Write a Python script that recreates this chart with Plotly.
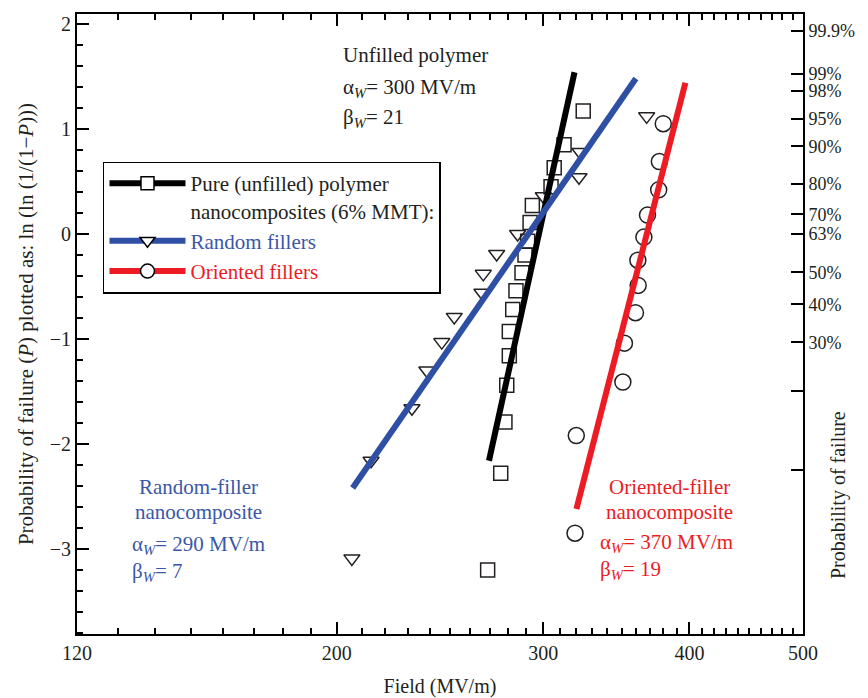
import numpy as np
import plotly.graph_objects as go

# ---------------- data ----------------
sq_field = [269.0, 276.0, 278.3, 279.3, 280.7, 280.7, 282.6, 284.4, 287.8, 289.5,
            291.0, 292.4, 293.7, 304.7, 306.6, 312.6, 324.6]
sq_y = [-3.20, -2.28, -1.79, -1.44, -1.16, -0.93, -0.72, -0.54, -0.37, -0.20,
        -0.07, 0.11, 0.27, 0.45, 0.63, 0.85, 1.17]

tri_field = [206.0, 213.9, 231.8, 238.7, 245.8, 251.9, 266.0, 266.7, 273.8, 285.3,
             300.1, 321.9, 322.5, 367.7]
tri_y = [-3.09, -2.16, -1.66, -1.30, -1.03, -0.79, -0.56, -0.38, -0.19, 0.00,
         0.36, 0.54, 0.78, 1.12]

circ_field = [319.4, 320.2, 350.9, 352.0, 359.7, 361.6, 361.4, 365.7, 368.3, 376.5,
              377.0, 379.9]
circ_y = [-2.85, -1.92, -1.41, -1.04, -0.75, -0.49, -0.25, -0.03, 0.18, 0.42,
          0.69, 1.05]

unfilled_fit_field = [269.7, 319.1]
unfilled_fit_y = [-2.16, 1.54]
random_fit_field = [206.3, 360.0]
random_fit_y = [-2.42, 1.48]
oriented_fit_field = [320.3, 396.8]
oriented_fit_y = [-2.62, 1.44]

x_tick_vals = [120, 200, 300, 400, 500]
x_tick_text = ["120", "200", "300", "400", "500"]
x_minor_vals = [v for v in range(130, 500, 10) if v not in (200, 300, 400)]

y_tick_vals = [-3, -2, -1, 0, 1, 2]
y_tick_text = ["\u22123", "\u22122", "\u22121", "0", "1", "2"]
prob_vals = [0.999, 0.99, 0.98, 0.95, 0.90, 0.80, 0.70, 0.632, 0.50, 0.40, 0.30, 0.20, 0.10]
prob_text = ["99.9%", "99%", "98%", "95%", "90%", "80%", "70%", "63%", "50%", "40%", "30%", "", ""]
prob_pos = [float(np.log(-np.log(1 - p))) for p in prob_vals]

# ---------------- style ----------------
FONT = "Liberation Serif"
TXT = "#231F20"
BLUE = "#2E4FA3"
RED = "#ED1C24"
BLUE_T = "#3A56A8"
MK = "#231F20"
YR = [-3.81, 2.095]
XR = [np.log10(120), np.log10(500)]

fig = go.Figure()

# markers
fig.add_trace(go.Scatter(x=sq_field, y=sq_y, mode="markers", showlegend=False,
                         marker=dict(symbol="square-open", size=14, color=MK, line=dict(width=1.5))))
fig.add_trace(go.Scatter(x=tri_field, y=tri_y, mode="markers", showlegend=False,
                         marker=dict(symbol="triangle-down-open", size=14, color=MK, line=dict(width=1.5))))
fig.add_trace(go.Scatter(x=circ_field, y=circ_y, mode="markers", showlegend=False,
                         marker=dict(symbol="circle-open", size=16, color=MK, line=dict(width=1.5))))

# fitted lines
fig.add_trace(go.Scatter(x=unfilled_fit_field, y=unfilled_fit_y, mode="lines", showlegend=False,
                         line=dict(color="black", width=6)))
fig.add_trace(go.Scatter(x=random_fit_field, y=random_fit_y, mode="lines", showlegend=False,
                         line=dict(color=BLUE, width=6)))
fig.add_trace(go.Scatter(x=oriented_fit_field, y=oriented_fit_y, mode="lines", showlegend=False,
                         line=dict(color=RED, width=6)))

# legend entries
fig.add_trace(go.Scatter(x=[None], y=[None], mode="lines+markers",
                         name="Pure (unfilled) polymer<br>nanocomposites (6% MMT):",
                         line=dict(color="black", width=6),
                         marker=dict(symbol="square", size=13, color="white", line=dict(color="black", width=1.5))))
fig.add_trace(go.Scatter(x=[None], y=[None], mode="lines+markers",
                         name="<span style='color:%s'>Random fillers</span>" % BLUE_T,
                         line=dict(color=BLUE, width=6),
                         marker=dict(symbol="triangle-down", size=13, color="white", line=dict(color="black", width=1.5))))
fig.add_trace(go.Scatter(x=[None], y=[None], mode="lines+markers",
                         name="<span style='color:%s'>Oriented fillers</span>" % RED,
                         line=dict(color=RED, width=6),
                         marker=dict(symbol="circle", size=14, color="white", line=dict(color="black", width=1.5))))

# dummy traces so the right and top axes are drawn
fig.add_trace(go.Scatter(x=[None], y=[None], yaxis="y2", showlegend=False, hoverinfo="skip"))
fig.add_trace(go.Scatter(x=[None], y=[None], xaxis="x2", showlegend=False, hoverinfo="skip"))

axis_common = dict(showline=True, linecolor="black", linewidth=2, showgrid=False, zeroline=False,
                   ticks="inside", ticklen=12, tickwidth=2, tickcolor="black", automargin=False,
                   tickfont=dict(family=FONT, size=20, color=TXT))
x_minor = dict(tickvals=x_minor_vals, ticks="inside", ticklen=6, tickwidth=2, tickcolor="black")

fig.update_layout(
    width=868, height=698,
    margin=dict(l=77, r=65, t=14, b=64),
    paper_bgcolor="white", plot_bgcolor="white",
    font=dict(family=FONT, size=20, color=TXT),
    xaxis=dict(type="log", range=XR, tickvals=x_tick_vals, ticktext=x_tick_text,
               minor=x_minor,
               title=dict(text="Field (MV/m)", font=dict(family=FONT, size=20, color=TXT), standoff=16),
               **axis_common),
    xaxis2=dict(type="log", range=XR, overlaying="x", side="top", anchor="y",
                tickvals=x_tick_vals, showticklabels=False, minor=x_minor,
                **axis_common),
    yaxis=dict(range=YR, tickvals=y_tick_vals, ticktext=y_tick_text,
               minor=dict(dtick=0.2, ticks="inside", ticklen=6, tickwidth=2, tickcolor="black"),
               title=dict(text="Probability of failure (<i>P</i>) plotted as: ln (ln (1/(1\u2212<i>P</i>)))",
                          font=dict(family=FONT, size=21, color=TXT), standoff=10),
               **axis_common),
    yaxis2=dict(overlaying="y", side="right", range=YR, tickvals=prob_pos, ticktext=prob_text,
                **{**axis_common, "tickfont": dict(family=FONT, size=18, color=TXT)}),
    legend=dict(x=0.0358, y=0.762, xanchor="left", yanchor="top",
                bgcolor="white", bordercolor="black", borderwidth=1.5,
                font=dict(family=FONT, size=21, color=TXT), itemwidth=76,
                valign="top", tracegroupgap=0),
)

def px2paper(px, py):
    return (px - 77) / 726.0, (634 - py) / 620.0

def note(text, px, py, color=TXT, xanchor="left", angle=0, size=21):
    x, y = px2paper(px, py)
    fig.add_annotation(text=text, x=x, y=y, xref="paper", yref="paper", showarrow=False,
                       xanchor=xanchor, yanchor="middle", textangle=angle,
                       font=dict(family=FONT, size=size, color=color))

note("Unfilled polymer", 341, 55)
note("\u03b1<sub><i>W</i></sub>= 300 MV/m", 341, 88)
note("\u03b2<sub><i>W</i></sub>= 21", 341, 118)

note("Random-filler", 198, 487, BLUE_T, "center")
note("nanocomposite", 198, 512, BLUE_T, "center")
note("\u03b1<sub><i>W</i></sub>= 290 MV/m", 130, 545, BLUE_T)
note("\u03b2<sub><i>W</i></sub>= 7", 130, 572, BLUE_T)

note("Oriented-filler", 669.5, 487, RED, "center")
note("nanocomposite", 669.5, 512, RED, "center")
note("\u03b1<sub><i>W</i></sub>= 370 MV/m", 598, 543, RED)
note("\u03b2<sub><i>W</i></sub>= 19", 598, 570, RED)

note("Probability of failure", 838, 495, TXT, "center", -90, 20)

fig.write_html("out.html")
